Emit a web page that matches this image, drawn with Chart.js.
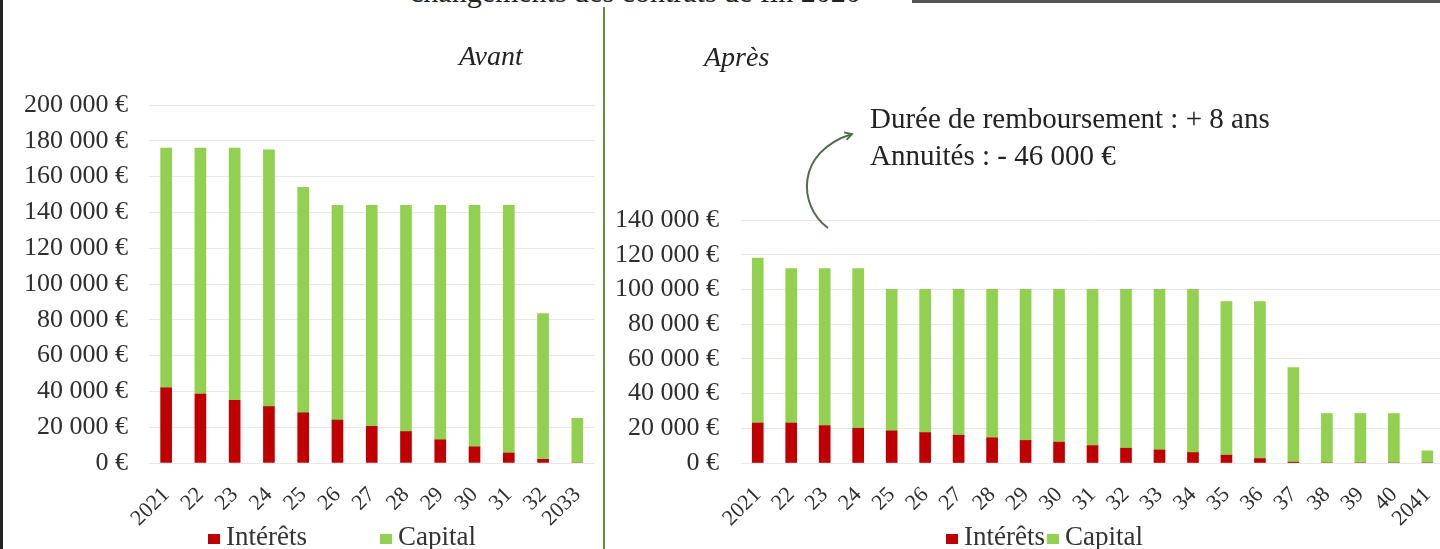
<!DOCTYPE html>
<html lang="fr">
<head>
<meta charset="utf-8">
<title>Avant / Après</title>
<script src="https://cdn.jsdelivr.net/npm/chart.js@4.4.1/dist/chart.umd.min.js"></script>
<style>
    html, body {
        margin: 0;
        padding: 0;
        background: #ffffff;
    }
    #page {
        position: relative;
        width: 1440px;
        height: 549px;
        overflow: hidden;
        background: #ffffff;
        font-family: 'Liberation Serif', 'Times New Roman', serif;
        color: #222222;
    }
    .chart-box {
        position: absolute;
        top: 0;
        height: 549px;
    }
    .txt {
        position: absolute;
        white-space: nowrap;
    }
    .legend-item {
        position: absolute;
        top: 523px;
        font-size: 27px;
        line-height: 27px;
        white-space: nowrap;
        color: #333333;
    }
    .legend-item i {
        display: inline-block;
        width: 12px;
        height: 10px;
        margin-right: 6px;
        vertical-align: 1px;
    }
</style>
</head>
<body>
<div id="page">
    <!-- cut title at the top of the picture -->
    <div class="txt" style="left:410px; top:-23px; font-size:30px; line-height:30px;">changements des contrats de fin 2020</div>
    <div style="position:absolute; left:912px; top:0; width:528px; height:3px; background:#555555;"></div>
    <div style="position:absolute; left:0; top:0; width:3px; height:549px; background:#222222;"></div>

    <div class="chart-box" style="left:0; width:607px;"><canvas id="avantChart" width="607" height="549"></canvas></div>
    <div class="chart-box" style="left:605px; width:852px;"><canvas id="apresChart" width="852" height="549"></canvas></div>

    <div style="position:absolute; left:603px; top:7px; width:2px; height:542px; background:#5d8f3c;"></div>

    <div class="txt" style="left:459px; top:42px; font-size:28px; line-height:28px; font-style:italic;">Avant</div>
    <div class="txt" style="left:704px; top:43px; font-size:28px; line-height:28px; font-style:italic;">Après</div>

    <div class="txt" style="left:870px; top:100px; font-size:29px; line-height:37px;">Durée de remboursement : + 8 ans<br>Annuités : - 46 000 €</div>

    <svg style="position:absolute; left:0; top:0;" width="1440" height="549">
        <defs>
            <marker id="head" markerWidth="10" markerHeight="10" refX="8" refY="5" orient="auto" markerUnits="userSpaceOnUse">
                <path d="M1,1 L8,5 L1,9" fill="none" stroke="#4f6b4f" stroke-width="1.8"></path>
            </marker>
        </defs>
        <path d="M828,228 C798,206 795,152 852,134" fill="none" stroke="#4f6b4f" stroke-width="2" marker-end="url(#head)"></path>
    </svg>

    <div id="legendAvant"></div>
    <div id="legendApres"></div>
</div>

<script>
// Données
const avantYears = ['2021', '22', '23', '24', '25', '26', '27', '28', '29', '30', '31', '32', '2033'];
const avantInterets = [42000, 38500, 35000, 31500, 28000, 24000, 20500, 17500, 13000, 9000, 5500, 2000, 0];
const avantCapital = [134000, 137500, 141000, 143500, 126000, 120000, 123500, 126500, 131000, 135000, 138500, 81500, 25000];

const apresYears = ['2021', '22', '23', '24', '25', '26', '27', '28', '29', '30', '31', '32', '33', '34', '35', '36', '37', '38', '39', '40', '2041'];
const apresInterets = [23000, 23000, 21500, 20000, 18500, 17500, 16000, 14500, 13000, 12000, 10000, 8500, 7500, 6000, 4500, 2500, 500, 0, 0, 0, 0];
const apresCapital = [95000, 89000, 90500, 92000, 81500, 82500, 84000, 85500, 87000, 88000, 90000, 91500, 92500, 94000, 88500, 90500, 54500, 28500, 28500, 28500, 7000];

const avantTicks = { max: 200000, step: 20000 };
const apresTicks = { max: 140000, step: 20000 };

const seriesLabels = ['Intérêts', 'Capital'];

const COLORS = {
    interets: '#c00000',
    capital: '#92d050',
    grid: '#e8e8e8',
    text: '#2e2e2e'
};

const FONT_FAMILY = "'Liberation Serif', 'Times New Roman', serif";

function formatEuro(value) {
    return String(value).replace(/\B(?=(\d{3})+(?!\d))/g, ' ') + ' €';
}

function buildChart(canvasId, years, interets, capital, ticks, area) {
    return new Chart(document.getElementById(canvasId).getContext('2d'), {
        type: 'bar',
        data: {
            labels: years,
            datasets: [{
                label: seriesLabels[0],
                data: interets,
                backgroundColor: COLORS.interets,
                barThickness: 11
            }, {
                label: seriesLabels[1],
                data: capital,
                backgroundColor: COLORS.capital,
                barThickness: 11
            }]
        },
        options: {
            responsive: false,
            animation: false,
            devicePixelRatio: 1,
            layout: {
                padding: { top: area.top, right: 0, bottom: 0, left: 0 }
            },
            plugins: {
                legend: { display: false },
                tooltip: { enabled: false }
            },
            scales: {
                x: {
                    stacked: true,
                    grid: { display: false },
                    border: { display: false },
                    ticks: {
                        autoSkip: false,
                        minRotation: 45,
                        maxRotation: 45,
                        padding: 11,
                        color: COLORS.text,
                        font: { family: FONT_FAMILY, size: 22 }
                    },
                    afterFit: (scale) => { scale.height = 86; }
                },
                y: {
                    stacked: true,
                    min: 0,
                    max: ticks.max,
                    grid: { color: COLORS.grid, drawTicks: false },
                    border: { display: false },
                    ticks: {
                        stepSize: ticks.step,
                        padding: area.labelGap,
                        color: COLORS.text,
                        font: { family: FONT_FAMILY, size: 26 },
                        callback: (value) => formatEuro(value)
                    },
                    afterFit: (scale) => { scale.width = area.left; }
                }
            }
        }
    });
}

// Légende HTML (les deux séries)
function buildLegend(containerId, positions) {
    const colors = [COLORS.interets, COLORS.capital];
    document.getElementById(containerId).innerHTML = seriesLabels.map((label, i) => `
        <div class="legend-item" style="left:${positions[i]}px;"><i style="background:${colors[i]}"></i>${label}</div>
    `).join('');
}

buildChart('avantChart', avantYears, avantInterets, avantCapital, avantTicks,
    { top: 105, left: 149, labelGap: 21 });
buildChart('apresChart', apresYears, apresInterets, apresCapital, apresTicks,
    { top: 220, left: 136, labelGap: 22 });

buildLegend('legendAvant', [208, 380]);
buildLegend('legendApres', [946, 1047]);
</script>
</body>
</html>
